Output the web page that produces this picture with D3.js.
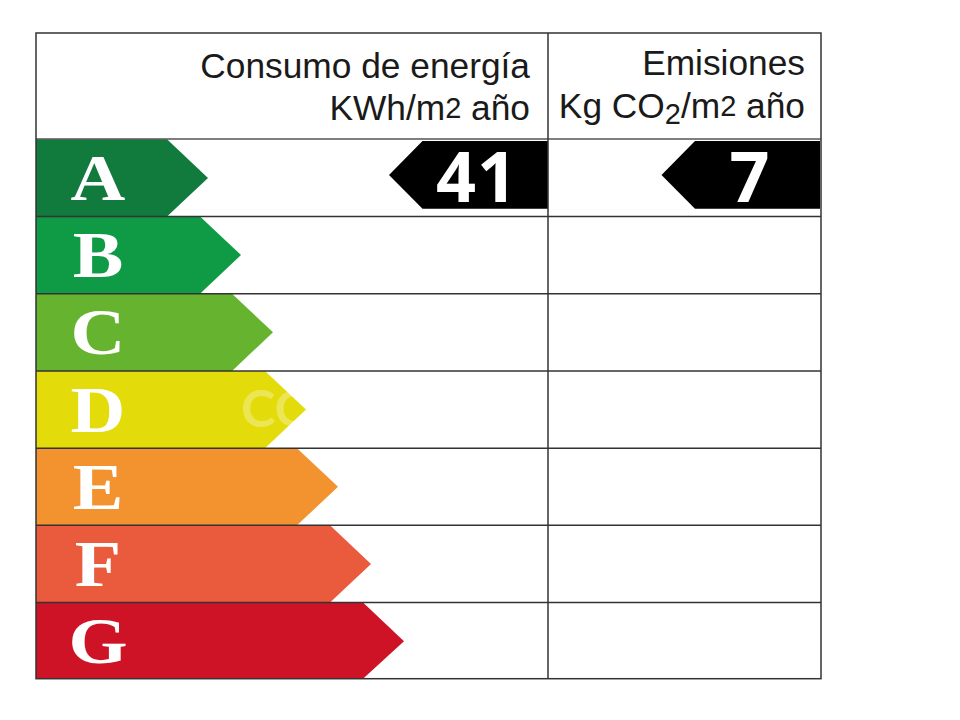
<!DOCTYPE html>
<html>
<head>
<meta charset="utf-8">
<script src="https://cdn.jsdelivr.net/npm/d3@7"></script>
<style>
  body { margin: 0; background: #fff; }
  svg { display: block; }
</style>
</head>
<body>
<svg width="960" height="720"></svg>
<script>
// energy label data
const classes = ["A", "B", "C", "D", "E", "F", "G"];
const classLengths = [172, 205, 237, 270, 302, 335, 368];
const classColors = ["#117a3d", "#0f9b45", "#65b32e", "#e4dc0a", "#f39330", "#ea5a3d", "#cf1327"];
const ratedClass = "A";
const energyValue = 41;
const emissionValue = 7;

const svg = d3.select("svg");
const tableLeft = 36, tableRight = 821, tableTop = 33, headBottom = 139, tableBottom = 678.7, divider = 548;
const arrowHead = 41;

const x = d3.scaleLinear().domain([0, tableRight - tableLeft]).range([tableLeft, tableRight]);
const y = d3.scaleBand().domain(classes).range([139.3, 679.8]);
const line = d3.line().x(d => d[0]).y(d => d[1]);

// class arrows
svg.selectAll(".band")
    .data(classes)
    .enter().append("path")
    .attr("class", "band")
    .attr("fill", (d, i) => classColors[i])
    .attr("d", (d, i) => {
        const tip = x(classLengths[i]);
        const y0 = y(d), y1 = Math.min(y0 + y.bandwidth(), tableBottom);
        const mid = y0 + y.bandwidth() / 2;
        return line([[tableLeft, y0], [tip - arrowHead, y0], [tip, mid], [tip - arrowHead, y1], [tableLeft, y1]]) + "Z";
    });

// faint watermark on the D arrow
svg.append("text")
    .attr("x", 241).attr("y", 427)
    .attr("font-family", "Lato, sans-serif").attr("font-size", 52).attr("font-weight", 700)
    .attr("fill", "#fff").attr("opacity", 0.3)
    .text("CO");

// class letters
svg.selectAll(".letter")
    .data(classes)
    .enter().append("text")
    .attr("class", "letter")
    .attr("transform", d => `translate(98,${y(d) + y.bandwidth() / 2 + 22}) scale(1.15,1)`)
    .attr("text-anchor", "middle")
    .attr("font-family", "'Liberation Serif', serif")
    .attr("font-weight", 700)
    .attr("font-size", 66)
    .attr("fill", "#fff")
    .text(d => d);

// black value markers
const markers = [
    { value: energyValue, tip: 389, end: divider, label: 477 },
    { value: emissionValue, tip: 661.5, end: 820, label: 749.5 }
];
const my = y(ratedClass);
svg.selectAll(".marker")
    .data(markers)
    .enter().append("path")
    .attr("class", "marker")
    .attr("fill", "#000")
    .attr("d", d => {
        const y0 = my + 1.7, y1 = my + 69.5;
        return line([[d.tip, (y0 + y1) / 2], [d.tip + 33.5, y0], [d.end, y0], [d.end, y1], [d.tip + 33.5, y1]]) + "Z";
    });
svg.selectAll(".value")
    .data(markers)
    .enter().append("text")
    .attr("class", "value")
    .attr("x", d => d.label)
    .attr("y", my + 63)
    .attr("text-anchor", "middle")
    .attr("font-family", "'Open Sans', sans-serif")
    .attr("font-weight", 700)
    .attr("font-size", 70)
    .attr("letter-spacing", d => d.value > 9 ? 1 : 0)
    .attr("fill", "#fff")
    .text(d => d.value);

// table lines
const gridColor = "#333";
svg.selectAll(".rowline")
    .data(classes.slice(1))
    .enter().append("line")
    .attr("class", "rowline")
    .attr("x1", tableLeft).attr("x2", tableRight)
    .attr("y1", d => y(d)).attr("y2", d => y(d))
    .attr("stroke", gridColor).attr("stroke-width", 1.5);
svg.append("line")
    .attr("x1", tableLeft).attr("x2", tableRight).attr("y1", headBottom).attr("y2", headBottom)
    .attr("stroke", "#555").attr("stroke-width", 1.5);
svg.append("line")
    .attr("x1", divider).attr("x2", divider).attr("y1", tableTop).attr("y2", tableBottom)
    .attr("stroke", gridColor).attr("stroke-width", 1.5);
svg.append("rect")
    .attr("x", tableLeft).attr("y", tableTop)
    .attr("width", tableRight - tableLeft).attr("height", tableBottom - tableTop)
    .attr("fill", "none").attr("stroke", gridColor).attr("stroke-width", 1.5);

// header text
const heading = (xPos, yPos, parts) => {
    const t = svg.append("text")
        .attr("x", xPos).attr("y", yPos)
        .attr("text-anchor", "end")
        .attr("font-family", "'Liberation Sans', sans-serif")
        .attr("font-size", 35.3)
        .attr("fill", "#1a1a1a");
    parts.forEach(p => {
        t.append("tspan").attr("dy", p.dy || 0).attr("font-size", p.size || null).text(p.text);
    });
};
heading(530, 78, [{ text: "Consumo de energía" }]);
heading(530, 120, [{ text: "KWh/m" }, { text: "2", size: 29, dy: -2 }, { text: " año", dy: 2 }]);
heading(805, 75, [{ text: "Emisiones" }]);
heading(805, 118, [{ text: "Kg CO" }, { text: "2", size: 29, dy: 6 }, { text: "/m", dy: -6 }, { text: "2", size: 29, dy: -2 }, { text: " año", dy: 2 }]);
</script>
</body>
</html>
